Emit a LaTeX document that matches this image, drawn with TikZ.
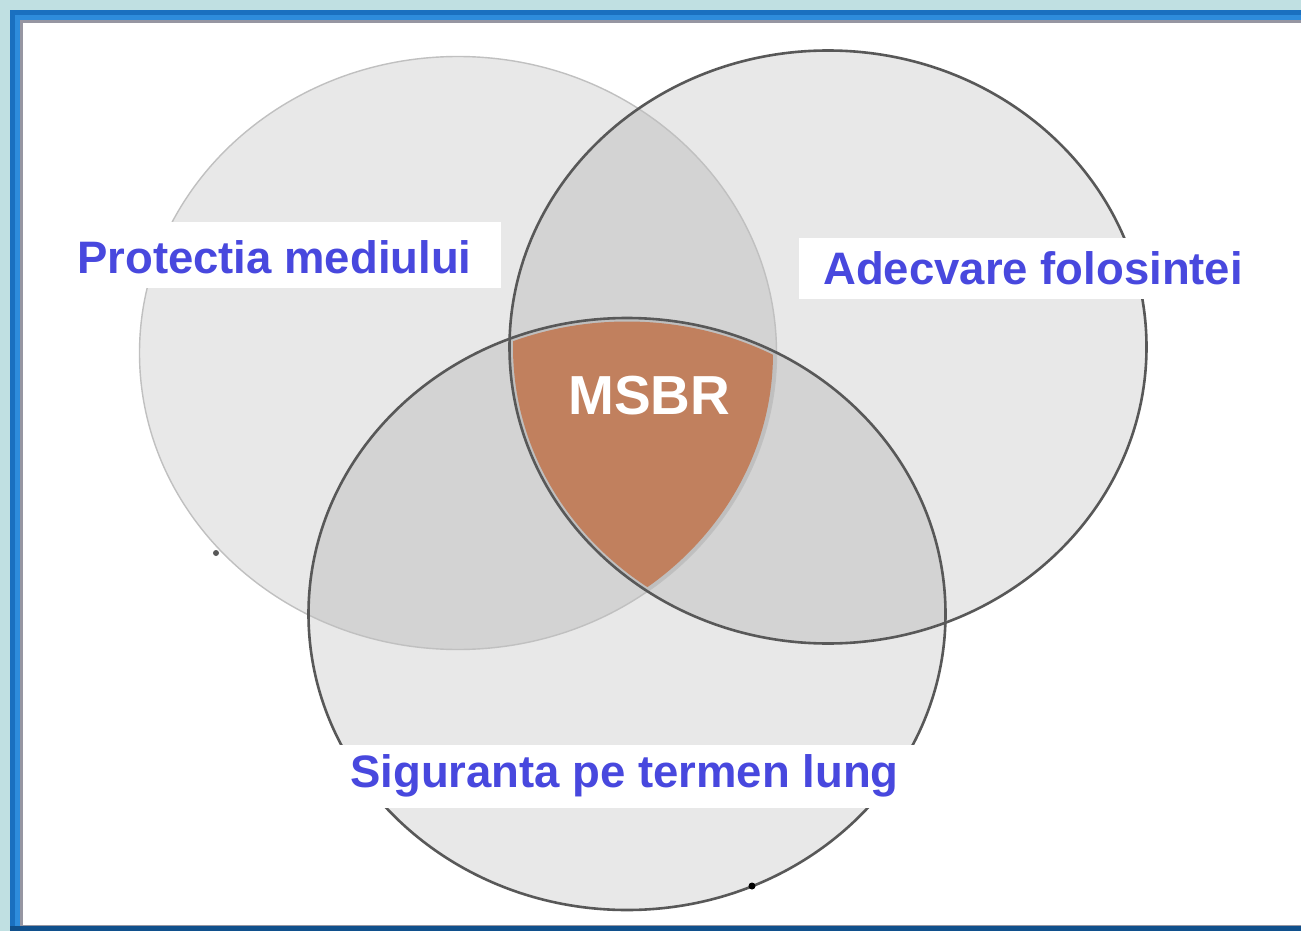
\documentclass[tikz,border=0pt]{standalone}
\usepackage{fontspec}
\setmainfont{Liberation Sans}
\definecolor{bandc}{RGB}{192,224,226}
\definecolor{frameblue}{RGB}{26,112,192}
\definecolor{framelight}{RGB}{46,140,220}
\definecolor{framedark}{RGB}{16,80,140}
\definecolor{shadowgray}{RGB}{150,150,162}
\definecolor{labelblue}{RGB}{72,72,222}
\definecolor{copper}{RGB}{193,128,94}
\definecolor{rimdark}{RGB}{88,88,88}
\definecolor{rimlight}{RGB}{192,192,192}

\begin{document}
\begin{tikzpicture}[x=1pt,y=-1pt,
  vennfill/.style={fill=black, fill opacity=0.09},
  lbl/.style={text=labelblue, font=\bfseries\fontsize{45.5}{50}\selectfont,
              anchor=base west, inner sep=0pt},
  lblbox/.style={fill=white},
  darkrim/.style={draw=rimdark, line width=2.6pt},
  lightrim/.style={draw=rimlight, line width=1.4pt}]

\useasboundingbox (0,0) rectangle (1301,931);

% frame
\fill[bandc] (0,0) rectangle (1301,931);
\fill[frameblue] (10,10) rectangle (1301,931);
\fill[framelight] (15,15) rectangle (1301,926);
\fill[framedark] (10,926) rectangle (1301,931);
\fill[shadowgray] (20,20) rectangle (1301,926);
\fill[white] (23,23) rectangle (1301,925);

% the three sets
\fill[vennfill] (458,353) ellipse [x radius=318.5pt, y radius=296.5pt];
\fill[vennfill] (828,347) ellipse [x radius=318.5pt, y radius=296.5pt];
\fill[vennfill] (627,614) ellipse [x radius=318.5pt, y radius=296pt];

% common core
\begin{scope}
  \clip (458,353) ellipse [x radius=315pt, y radius=293pt];
  \clip (828,347) ellipse [x radius=315pt, y radius=293pt];
  \fill[copper] (627,614) ellipse [x radius=315pt, y radius=292.5pt];
\end{scope}

% outlines
\draw[lightrim] (458,353) ellipse [x radius=318.5pt, y radius=296.5pt];
\draw[darkrim] (828,347) ellipse [x radius=318.5pt, y radius=296.5pt];
\draw[darkrim] (627,614) ellipse [x radius=318.5pt, y radius=296pt];

% label backgrounds
\fill[lblbox] (70,222) rectangle (501,288);
\fill[lblbox] (799,238) rectangle (1268,299);
\fill[lblbox] (330,745) rectangle (925,808);

% labels
\node[lbl] (protectia) at (77,273) {Protectia mediului};
\node[lbl] (adecvare) at (823,284) {Adecvare folosintei};
\node[lbl] (siguranta) at (350,787) {Siguranta pe termen lung};
\node[lbl, text=white, font=\bfseries\fontsize{55}{60}\selectfont] (msbr) at (568,414) {MSBR};

% specks
\fill[rimdark] (216,553) circle (3pt);
\fill[black] (752,886) circle (3.5pt);
\end{tikzpicture}
\end{document}
